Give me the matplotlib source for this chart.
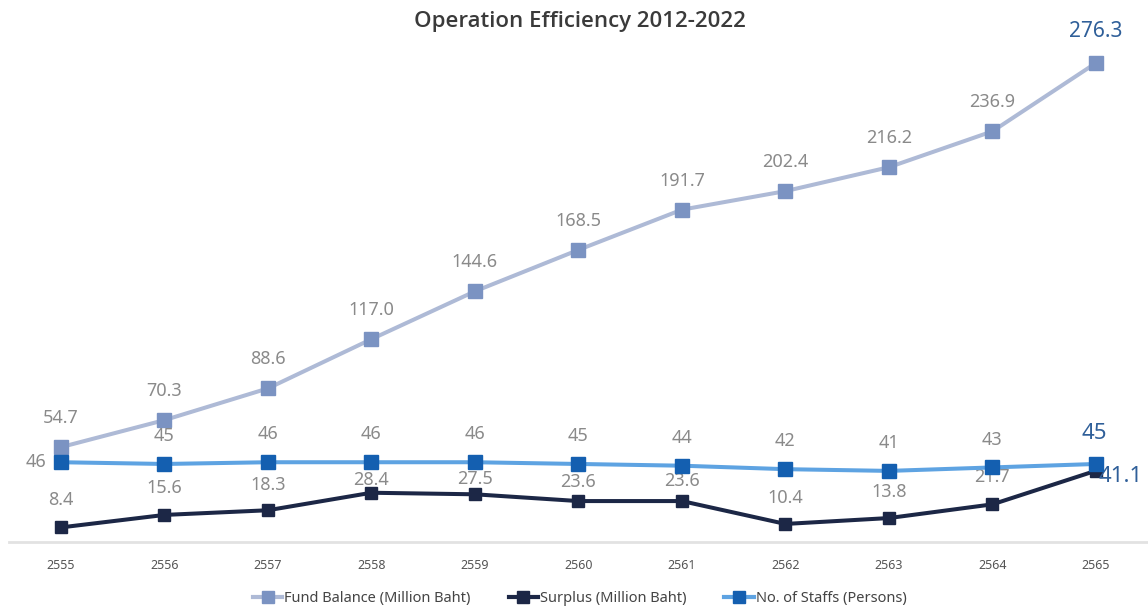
import matplotlib
matplotlib.use("Agg")
import matplotlib.pyplot as plt
from matplotlib.lines import Line2D

plt.rcParams['font.family'] = ['Noto Sans', 'DejaVu Sans']

# fiscal years (Thai B.E.)
years = ['2555', '2556', '2557', '2558', '2559', '2560', '2561', '2562', '2563', '2564', '2565']
fund_balance = [54.7, 70.3, 88.6, 117.0, 144.6, 168.5, 191.7, 202.4, 216.2, 236.9, 276.3]
surplus = [8.4, 15.6, 18.3, 28.4, 27.5, 23.6, 23.6, 10.4, 13.8, 21.7, 41.1]
staffs = [46, 45, 46, 46, 46, 45, 44, 42, 41, 43, 45]

# vertical label offsets (points) for the surplus labels, they sit under the staff line
surplus_offsets = [20, 19.5, 18.5, 9, 11, 14, 14.5, 19, 19, 20]

FUND_LINE = '#aebad6'
FUND_MARK = '#7b93c2'
SURP = '#1c2746'
STAFF_LINE = '#5ea3e2'
STAFF_MARK = '#145fb0'
LABEL = '#8a8a8a'
HIGHLIGHT = '#2f5f99'

fig = plt.figure(figsize=(11.48, 6.08), dpi=100)
ax = fig.add_axes([0.008, 0.1086, 0.9917, 0.8553])
x = list(range(len(years)))

ax.plot(x, fund_balance, color=FUND_LINE, lw=2.9, marker='s', ms=10,
        mfc=FUND_MARK, mec=FUND_MARK, zorder=3)
ax.plot(x, surplus, color=SURP, lw=2.9, marker='s', ms=8.5,
        mfc=SURP, mec=SURP, zorder=3)
ax.plot(x, staffs, color=STAFF_LINE, lw=2.9, marker='s', ms=10.5,
        mfc=STAFF_MARK, mec=STAFF_MARK, zorder=4)

ax.set_xlim(-0.5, len(years) - 0.5)
ax.set_ylim(0, 300)

# data labels
for i, v in enumerate(fund_balance):
    last = i == len(years) - 1
    ax.annotate(f'{v:.1f}', (i, v), xytext=(0, 23 if last else 21),
                textcoords='offset points', ha='center', va='center',
                fontsize=15 if last else 13, color=HIGHLIGHT if last else LABEL)

for i, v in enumerate(surplus[:-1]):
    ax.annotate(f'{v:.1f}', (i, v), xytext=(0, surplus_offsets[i]),
                textcoords='offset points', ha='center', va='center',
                fontsize=13, color=LABEL)
ax.annotate(f'{surplus[-1]:.1f}', (len(years) - 1, surplus[-1]), xytext=(18, -4),
            textcoords='offset points', ha='center', va='center',
            fontsize=16, color=HIGHLIGHT)

for i, v in enumerate(staffs):
    if i == 0:
        ax.annotate(f'{v}', (i, v), xytext=(-18, 0), textcoords='offset points',
                    ha='center', va='center', fontsize=13, color=LABEL)
    elif i == len(years) - 1:
        ax.annotate(f'{v}', (i, v), xytext=(-1, 22), textcoords='offset points',
                    ha='center', va='center', fontsize=16, color=HIGHLIGHT)
    else:
        ax.annotate(f'{v}', (i, v), xytext=(0, 20), textcoords='offset points',
                    ha='center', va='center', fontsize=13, color=LABEL)

# axes styling: only a soft baseline and category ticks
for side in ['top', 'left', 'right']:
    ax.spines[side].set_visible(False)
ax.spines['bottom'].set_color('#e2e2e2')
ax.spines['bottom'].set_linewidth(2)
ax.set_yticks([])
ax.set_xticks(x)
ax.set_xticklabels(years, fontsize=9, color='#555555')
ax.tick_params(axis='x', length=0, pad=12)

fig.text(0.505, 0.965, 'Operation Efficiency 2012-2022', ha='center', va='center',
         fontsize=16, fontweight='semibold', family=['Open Sans', 'DejaVu Sans'],
         color='#3a3a3a')

handles = [
    Line2D([], [], color=FUND_LINE, lw=3, marker='s', ms=8, mfc=FUND_MARK, mec=FUND_MARK),
    Line2D([], [], color=SURP, lw=3, marker='s', ms=8, mfc=SURP, mec=SURP),
    Line2D([], [], color=STAFF_LINE, lw=3, marker='s', ms=8, mfc=STAFF_MARK, mec=STAFF_MARK),
]
fig.legend(handles, ['Fund Balance (Million Baht)', 'Surplus (Million Baht)', 'No. of Staffs (Persons)'],
           loc='center', bbox_to_anchor=(0.505, 0.015), ncol=3, frameon=False,
           prop={'size': 10.5, 'weight': 'medium'}, handlelength=2.0, handletextpad=0.15,
           columnspacing=2.6, labelcolor='#444444')

fig.savefig('out.png', dpi=100, facecolor='white')
